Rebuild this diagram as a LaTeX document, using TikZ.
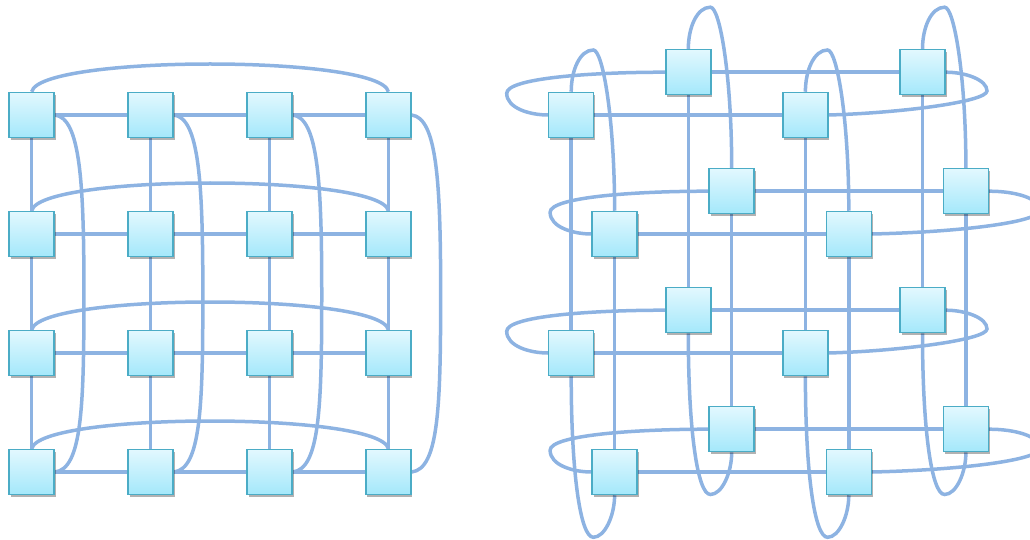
\documentclass[tikz,border=0pt]{standalone}
\usetikzlibrary{shadows,calc}
\definecolor{link}{HTML}{8DB3E2}
\definecolor{boxedge}{HTML}{4BACC6}
\definecolor{boxtop}{HTML}{E2F8FE}
\definecolor{boxbot}{HTML}{A4E8FB}
\pgfdeclarelayer{bg}
\pgfsetlayers{bg,main}
\tikzset{
 pe/.style={draw=boxedge, line width=1.5pt, minimum size=45pt, inner sep=0pt,
   top color=boxtop, bottom color=boxbot,
   drop shadow={shadow xshift=1.5pt, shadow yshift=-2.5pt, opacity=0.3, fill=black}},
 wire/.style={draw=link, line width=3.5pt},
}
\begin{document}
\begin{tikzpicture}[x=1pt,y=-1pt]
\useasboundingbox (0,0) rectangle (1030,540);
% left torus nodes
\foreach \i in {0,...,3}{\foreach \j in {0,...,3}{
  \pgfmathsetmacro\xx{31.7+118.9*\j}
  \pgfmathsetmacro\yy{115+119*\i}
  \node[pe] (l\i\j) at (\xx,\yy) {};
}}
% right folded torus nodes
\foreach \i in {0,...,3}{\foreach \j in {0,...,3}{
  \pgfmathsetmacro\xx{571.2+117.1*\j+43.4*mod(\i,2)}
  \pgfmathsetmacro\yy{115+119*\i-42.8*mod(\j,2)}
  \node[pe] (r\i\j) at (\xx,\yy) {};
}}
\begin{pgfonlayer}{bg}
% left grid straight links
\foreach \i in {0,...,3}{\foreach \j/\k in {0/1,1/2,2/3}{
  \draw[wire] (l\i\j) -- (l\i\k);
  \draw[wire] (l\j\i) -- (l\k\i);
}}
% left wrap-around links
\foreach \i in {0,...,3}{
  \draw[wire] (l\i0.north) .. controls +(8,-37) and +(-8,-37) .. (l\i3.north);
}
\foreach \j in {0,...,3}{
  \coordinate (lm\j) at ($(l0\j.east)!0.5!(l3\j.east)+(29,0)$);
  \draw[wire] (l0\j.east) .. controls +(25,3) and +(0,-113) .. (lm\j)
     .. controls +(0,113) and +(27,-3) .. (l3\j.east);
}
% right grid straight links
\foreach \i in {0,...,3}{
  \draw[wire] (r\i0) -- (r\i2);
  \draw[wire] (r\i1) -- (r\i3);
  \draw[wire] (r0\i) -- (r2\i);
  \draw[wire] (r1\i) -- (r3\i);
}
% row loops, left side
\foreach \i in {0,...,3}{
  \coordinate (tl\i) at ($(r\i0.center)+(-64.5,-21.7)$);
  \draw[wire] (r\i1.west) .. controls +(-75.7,0) and +(0,-15) .. (tl\i)
     .. controls +(0,15) and +(-18,0) .. (r\i0.west);
}
% row loops, right side
\foreach \i in {0,2}{
  \coordinate (tr\i) at ($(r\i3.center)+(64.5,18.7)$);
  \draw[wire] (r\i3.east) .. controls +(20,0) and +(0,-11) .. (tr\i)
     .. controls +(0,11) and +(71,-2) .. (r\i2.east);
}
\foreach \i in {1,3}{
  \coordinate (tr\i) at ($(r\i3.center)+(74,19)$);
  \draw[wire] (r\i3.east) .. controls +(26,0) and +(0,-12) .. (tr\i)
     .. controls +(0,12) and +(88,-2) .. (r\i2.east);
}
% column loops
\foreach \j in {0,...,3}{
  \coordinate (ct\j) at ($(r0\j.center)+(22.1,-65)$);
  \draw[wire] (r0\j.north) .. controls +(0,-21.7) and +(-13.3,0) .. (ct\j)
     .. controls +(9.7,0) and +(0,-90.7) .. (r1\j.north);
  \coordinate (cb\j) at ($(r2\j.center)+(22.1,184.3)$);
  \draw[wire] (r2\j.south) .. controls +(0,94) and +(-13.3,0) .. (cb\j)
     .. controls +(11.7,0) and +(0,20) .. (r3\j.south);
}
\end{pgfonlayer}
\end{tikzpicture}
\end{document}
